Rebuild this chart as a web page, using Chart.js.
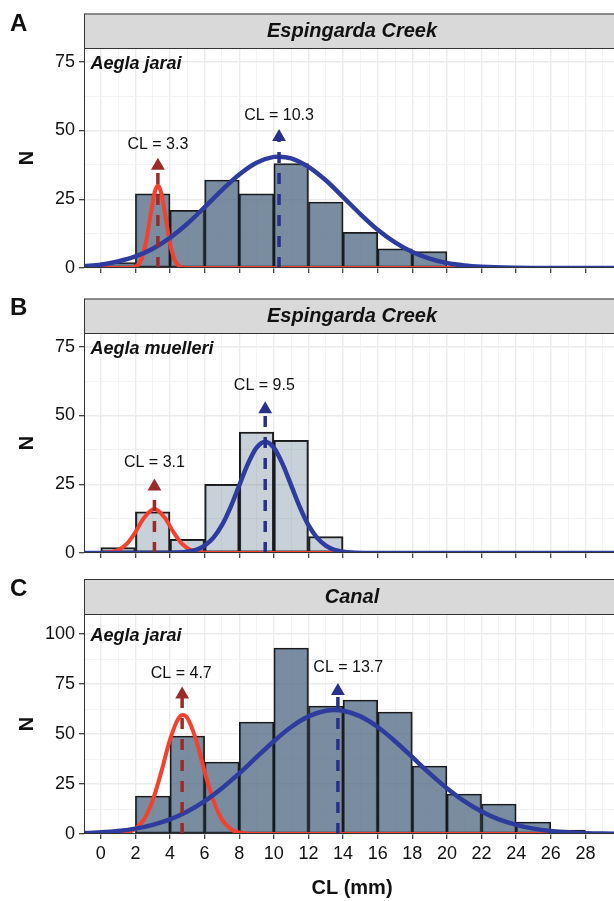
<!DOCTYPE html>
<html lang="en">
<head>
<meta charset="UTF-8">
<title>CL size classes</title>
<script src="https://cdn.jsdelivr.net/npm/chart.js"></script>
<style>
  html, body { margin: 0; padding: 0; background: #fff; overflow: hidden; }
  body { width: 614px; height: 901px; position: relative; }
  .panel { position: absolute; left: 0; }
  #panelA { top: 0; }
  #panelB { top: 285px; }
  #panelC { top: 560px; }
</style>
</head>
<body>
<canvas id="panelA" class="panel" width="640" height="285"></canvas>
<canvas id="panelB" class="panel" width="640" height="285"></canvas>
<canvas id="panelC" class="panel" width="640" height="341"></canvas>
<script>
// ---- data ----
const binMids = [1, 3, 5, 7, 9, 11, 13, 15, 17, 19, 21, 23, 25, 27];
const countsA = [2, 27, 21, 32, 27, 38, 24, 13, 7, 6, 0, 0, 0, 0];
const countsB = [2, 15, 5, 25, 44, 41, 6, 0, 0, 0, 0, 0, 0, 0];
const countsC = [0, 19, 49, 36, 56, 93, 64, 67, 61, 34, 20, 15, 6, 2];

const xMajor = [0, 2, 4, 6, 8, 10, 12, 14, 16, 18, 20, 22, 24, 26, 28];
const xMinor = [1, 3, 5, 7, 9, 11, 13, 15, 17, 19, 21, 23, 25, 27, 29];
const yMajorAB = [0, 25, 50, 75];
const yMinorAB = [12.5, 37.5, 62.5];
const yMajorC = [0, 25, 50, 75, 100];
const yMinorC = [12.5, 37.5, 62.5, 87.5];

// fitted curves (x, N)
const redAx = [-1, 1.5, 2.0, 2.3, 2.6, 2.9, 3.1, 3.3, 3.5, 3.7, 4.0, 4.3, 4.6, 5.0, 30];
const redAy = [0, 0, 0.5, 2.5, 8.9, 20.2, 27.2, 30, 27.2, 20.2, 8.9, 2.5, 0.5, 0, 0];
const blueAx = [-1, 0, 1, 2, 3, 4, 5, 6, 7, 8, 9, 10, 10.3, 11, 12, 13, 14, 15, 16, 17, 18, 19, 20, 21, 22, 24, 26, 30];
const blueAy = [0.6, 1.2, 2.4, 4.2, 7.0, 11.0, 16.1, 22.1, 28.3, 34.0, 38.3, 40.4, 40.5, 39.9, 36.8, 31.9, 25.8, 19.6, 13.9, 9.3, 5.8, 3.4, 1.8, 0.9, 0.45, 0.1, 0, 0];

const redBx = [-1, 0, 0.5, 1.0, 1.5, 2.0, 2.5, 3.1, 3.7, 4.2, 4.7, 5.2, 5.7, 6.5, 30];
const redBy = [0, 0.04, 0.25, 1.05, 3.3, 7.6, 12.8, 16, 12.8, 7.6, 3.3, 1.05, 0.25, 0, 0];
const blueBx = [-1, 3.5, 4.5, 5.5, 6.0, 6.5, 7.0, 7.5, 8.0, 8.5, 9.0, 9.5, 10.0, 10.5, 11.0, 11.5, 12.0, 12.5, 13.0, 13.5, 14.5, 15.5, 30];
const blueBy = [0, 0, 0.16, 1.16, 2.7, 5.5, 10.1, 16.7, 24.6, 32.4, 38.3, 40.5, 38.3, 32.4, 24.6, 16.7, 10.1, 5.5, 2.7, 1.16, 0.16, 0, 0];

const redCx = [-1, 0.5, 1.0, 1.5, 2.0, 2.5, 3.0, 3.5, 4.0, 4.5, 4.75, 5.0, 5.5, 6.0, 6.5, 7.0, 7.5, 8.0, 8.5, 9.0, 30];
const redCy = [0, 0.03, 0.18, 0.76, 2.6, 7.3, 16.8, 31.2, 47.2, 58.0, 59.5, 58.0, 47.2, 31.2, 16.8, 7.3, 2.6, 0.76, 0.18, 0.03, 0];
const blueCx = [-1, 0, 1, 2, 3, 4, 5, 6, 7, 8, 9, 10, 11, 12, 13, 13.5, 14, 15, 16, 17, 18, 19, 20, 21, 22, 23, 24, 25, 26, 27, 28, 29, 30];
const blueCy = [0.43, 0.84, 1.55, 2.7, 4.6, 7.3, 11.2, 16.4, 22.9, 30.3, 38.4, 46.4, 53.5, 58.8, 61.6, 62, 61.6, 58.8, 53.5, 46.4, 38.4, 30.3, 22.9, 16.4, 11.2, 7.3, 4.6, 2.7, 1.55, 0.84, 0.43, 0.2, 0.1];

// mean CL arrows and their labels
const clA = [3.3, 10.3], headA = [37.2, 47.6], labXA = [3.3, 10.3], labYA = [45, 55.4];
const clB = [3.1, 9.5], headB = [24.2, 52.3], labXB = [3.1, 9.45], labYB = [33, 60.8];
const clC = [4.7, 13.7], headC = [69.8, 71.5], labXC = [4.65, 14.3], labYC = [80, 83.4];

// ---- styling ----
const FONT = '"Liberation Sans", Arial, sans-serif';
const RED = '#F4412E', BLUE = '#2F3C9F';
const RED_DARK = '#9B2B2B', BLUE_DARK = '#27318C';
const FILL_DARK = 'rgba(84,108,133,0.78)', FILL_LIGHT = 'rgba(84,108,133,0.32)';

const zip = (xs, ys) => xs.map((x, i) => ({ x: x, y: ys[i] }));

const decoPlugin = {
  id: 'deco',
  afterDatasetsDraw(chart, args, o) {
    const { ctx, chartArea: a, scales: { x, y } } = chart;
    ctx.save();
    // panel border
    ctx.strokeStyle = '#333';
    ctx.lineWidth = 1;
    ctx.strokeRect(a.left + 0.5, a.top + 0.5, a.right - a.left - 1, a.bottom - a.top - 1);

    // CL labels
    ctx.fillStyle = '#111';
    ctx.font = '16px ' + FONT;
    ctx.textAlign = 'center';
    ctx.textBaseline = 'middle';
    o.labX.forEach((lx, i) => {
      ctx.fillText('CL = ' + o.cl[i].toFixed(1), x.getPixelForValue(lx), y.getPixelForValue(o.labY[i]));
    });

    // species name
    ctx.font = 'italic bold 18px ' + FONT;
    ctx.textAlign = 'left';
    ctx.fillText(o.species, x.getPixelForValue(-0.6), y.getPixelForValue(o.speciesY) + 2);

    // strip
    ctx.fillStyle = '#D9D9D9';
    ctx.fillRect(a.left, o.stripTop, a.right - a.left, a.top - o.stripTop);
    ctx.strokeRect(a.left + 0.5, o.stripTop + 0.5, a.right - a.left - 1, a.top - o.stripTop);
    ctx.fillStyle = '#111';
    ctx.font = 'italic bold 20px ' + FONT;
    ctx.textAlign = 'center';
    ctx.fillText(o.site, (a.left + a.right) / 2, (o.stripTop + a.top) / 2 + 1);

    // panel letter
    ctx.font = 'bold 24px ' + FONT;
    ctx.textAlign = 'left';
    ctx.textBaseline = 'alphabetic';
    ctx.fillText(o.letter, 10, o.letterY);
    ctx.restore();
  }
};

function makePanel(id, p) {
  const datasets = [];
  p.cl.forEach((cx, i) => {
    const col = i === 0 ? RED_DARK : BLUE_DARK;
    datasets.push({
      type: 'line', data: [{ x: cx, y: p.head[i] }], showLine: false,
      pointStyle: 'triangle', pointRadius: 8, pointBackgroundColor: col,
      pointBorderColor: col, pointBorderWidth: 0, order: 0
    });
    datasets.push({
      type: 'line', data: [{ x: cx, y: 0 }, { x: cx, y: p.head[i] }],
      borderColor: col, borderWidth: 3.5, borderDash: [11, 10], pointRadius: 0, fill: false, order: 1
    });
  });
  datasets.push({
    type: 'line', data: zip(p.blueX, p.blueY), borderColor: BLUE, borderWidth: 4.5,
    pointRadius: 0, cubicInterpolationMode: 'monotone', fill: false, clip: 0, order: 2
  });
  datasets.push({
    type: 'line', data: zip(p.redX, p.redY), borderColor: RED, borderWidth: 4,
    pointRadius: 0, cubicInterpolationMode: 'monotone', fill: false, clip: 0, order: 3
  });
  datasets.push({
    type: 'bar',
    data: zip(binMids, p.counts).filter(d => d.y > 0),
    backgroundColor: p.fill, borderColor: '#1a1a1a', borderWidth: 1.5,
    borderSkipped: false, barThickness: 'flex', barPercentage: 1, categoryPercentage: 1, order: 4
  });

  const yMajor = p.yMajor, yMinor = p.yMinor;
  const isMajorX = v => xMajor.includes(v);
  const isMajorY = v => yMajor.includes(v);

  new Chart(document.getElementById(id), {
    type: 'bar',
    data: { datasets: datasets },
    plugins: [decoPlugin],
    options: {
      responsive: false,
      animation: false,
      events: [],
      devicePixelRatio: 1,
      layout: { padding: { top: p.top, right: 20, bottom: 0, left: 0 } },
      plugins: {
        legend: { display: false },
        tooltip: { enabled: false },
        deco: {
          cl: p.cl, labX: p.labX, labY: p.labY, species: p.species, speciesY: p.speciesY,
          site: p.site, stripTop: p.stripTop, letter: p.letter, letterY: p.letterY
        }
      },
      scales: {
        x: {
          type: 'linear', min: -0.97, max: 30, offset: false,
          afterBuildTicks: s => { s.ticks = xMajor.concat(xMinor).sort((a, b) => a - b).map(v => ({ value: v })); },
          afterFit: s => { s.height = p.xHeight; },
          border: { display: false },
          grid: {
            offset: false,
            color: c => (c.tick && isMajorX(c.tick.value)) ? '#EBEBEB' : '#F2F2F2',
            lineWidth: c => (c.tick && isMajorX(c.tick.value)) ? 1.4 : 0.9,
            tickColor: c => (c.tick && isMajorX(c.tick.value)) ? '#333' : 'rgba(0,0,0,0)',
            tickWidth: 1.2, tickLength: 5
          },
          ticks: {
            display: p.showX, autoSkip: false, maxRotation: 0, padding: 4,
            color: '#111', font: { family: FONT, size: 18 },
            callback: v => isMajorX(v) ? String(v) : ''
          },
          title: {
            display: p.showX, text: 'CL (mm)', color: '#111',
            font: { family: FONT, size: 20, weight: 'bold' }, padding: { top: 0, bottom: 1 }
          }
        },
        y: {
          type: 'linear', min: 0, max: p.yMax,
          afterBuildTicks: s => { s.ticks = yMajor.concat(yMinor).sort((a, b) => a - b).map(v => ({ value: v })); },
          afterFit: s => { s.width = 84; },
          border: { display: false },
          grid: {
            color: c => (c.tick && isMajorY(c.tick.value)) ? '#EBEBEB' : '#F2F2F2',
            lineWidth: c => (c.tick && isMajorY(c.tick.value)) ? 1.4 : 0.9,
            tickColor: c => (c.tick && isMajorY(c.tick.value)) ? '#333' : 'rgba(0,0,0,0)',
            tickWidth: 1.2, tickLength: 5
          },
          ticks: {
            autoSkip: false, padding: 4, color: '#111',
            font: { family: FONT, size: 18 },
            callback: v => isMajorY(v) ? String(v) : ''
          },
          title: {
            display: true, text: 'N', color: '#111',
            font: { family: FONT, size: 20, weight: 'bold' }, padding: 15
          }
        }
      }
    }
  });
}

makePanel('panelA', {
  counts: countsA, fill: FILL_DARK, redX: redAx, redY: redAy, blueX: blueAx, blueY: blueAy,
  cl: clA, head: headA, labX: labXA, labY: labYA,
  yMax: 80, yMajor: yMajorAB, yMinor: yMinorAB, top: 48, xHeight: 17, showX: false,
  species: 'Aegla jarai', speciesY: 75, site: 'Espingarda Creek', stripTop: 13.5, letter: 'A', letterY: 31
});
makePanel('panelB', {
  counts: countsB, fill: FILL_LIGHT, redX: redBx, redY: redBy, blueX: blueBx, blueY: blueBy,
  cl: clB, head: headB, labX: labXB, labY: labYB,
  yMax: 80, yMajor: yMajorAB, yMinor: yMinorAB, top: 48, xHeight: 17, showX: false,
  species: 'Aegla muelleri', speciesY: 75, site: 'Espingarda Creek', stripTop: 13.5, letter: 'B', letterY: 30
});
makePanel('panelC', {
  counts: countsC, fill: FILL_DARK, redX: redCx, redY: redCy, blueX: blueCx, blueY: blueCy,
  cl: clC, head: headC, labX: labXC, labY: labYC,
  yMax: 110, yMajor: yMajorC, yMinor: yMinorC, top: 54, xHeight: 67, showX: true,
  species: 'Aegla jarai', speciesY: 100, site: 'Canal', stripTop: 19, letter: 'C', letterY: 36
});
</script>
</body>
</html>
